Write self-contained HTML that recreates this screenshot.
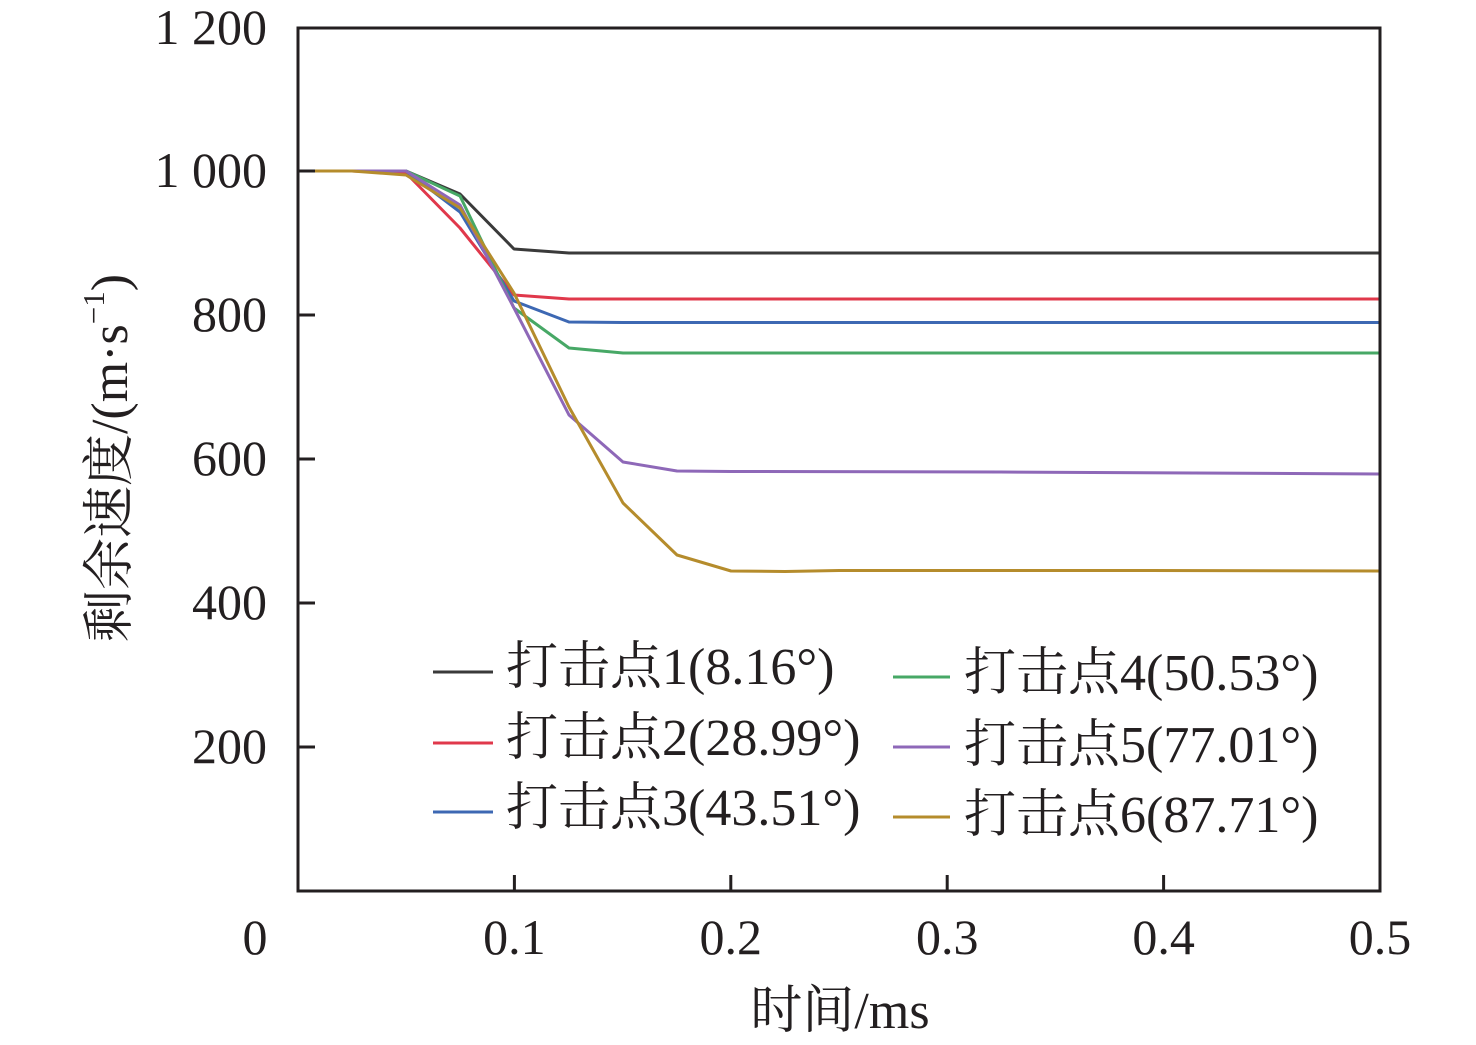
<!DOCTYPE html>
<html>
<head>
<meta charset="utf-8">
<style>
html,body{margin:0;padding:0;background:#fff;}
svg{display:block;}
text{font-family:"Liberation Serif","Noto Serif CJK SC",serif;fill:#231f20;}
</style>
</head>
<body>
<svg width="1476" height="1045" viewBox="0 0 1476 1045" xmlns="http://www.w3.org/2000/svg">
<rect width="1476" height="1045" fill="#fff"/>
<!-- series -->
<g fill="none" stroke-width="3" stroke-linejoin="round">
<polyline stroke="#3a3a3a" points="298,171 352,171 406,171 460,194 514,249 569,253 1380,253"/>
<polyline stroke="#e0384b" points="298,171 352,171 406,173 460,228 514,295 569,299 1380,299"/>
<polyline stroke="#3d68b3" points="298,171 352,171 406,171 460,212 514,301 569,322 623,322.5 1380,322.5"/>
<polyline stroke="#47a866" points="298,171 352,171 406,171 460,196 514,308 569,348 623,353 1380,353"/>
<polyline stroke="#8e68b8" points="298,171 352,171 406,171 460,205 514,308 569,415 623,462 677,471 731,471.5 1000,472 1380,474"/>
<polyline stroke="#b58c2c" points="298,171 352,171 406,175 460,208 514,293 569,407 623,503 677,555 731,571 785,571.5 839,570.5 1150,570.5 1380,571"/>
</g>
<!-- frame -->
<rect x="298" y="28" width="1082" height="863" fill="none" stroke="#231f20" stroke-width="3"/>
<g stroke="#231f20" stroke-width="3">
<line x1="298" y1="171" x2="315" y2="171"/>
<line x1="298" y1="315" x2="315" y2="315"/>
<line x1="298" y1="459" x2="315" y2="459"/>
<line x1="298" y1="603" x2="315" y2="603"/>
<line x1="298" y1="747" x2="315" y2="747"/>
<line x1="514.4" y1="891" x2="514.4" y2="875"/>
<line x1="730.8" y1="891" x2="730.8" y2="875"/>
<line x1="947.2" y1="891" x2="947.2" y2="875"/>
<line x1="1163.6" y1="891" x2="1163.6" y2="875"/>
</g>
<!-- y tick labels -->
<g font-size="50" text-anchor="end">
<text x="267" y="44">1 200</text>
<text x="267" y="187">1 000</text>
<text x="267" y="331">800</text>
<text x="267" y="475">600</text>
<text x="267" y="619">400</text>
<text x="267" y="763">200</text>
</g>
<!-- x tick labels -->
<g font-size="50" text-anchor="middle">
<text x="255" y="954">0</text>
<text x="514.4" y="954">0.1</text>
<text x="730.8" y="954">0.2</text>
<text x="947.2" y="954">0.3</text>
<text x="1163.6" y="954">0.4</text>
<text x="1380" y="954">0.5</text>
</g>
<!-- axis titles -->
<text x="840" y="1028" font-size="52" text-anchor="middle">时间/ms</text>
<text x="127" y="458" font-size="52" text-anchor="middle" transform="rotate(-90 127 458)">剩余速度/(m·s<tspan font-size="31" dy="-23">−1</tspan><tspan dy="23">)</tspan></text>
<!-- legend -->
<g stroke-width="3">
<line x1="433" y1="672" x2="493" y2="672" stroke="#3a3a3a"/>
<line x1="433" y1="743" x2="493" y2="743" stroke="#e0384b"/>
<line x1="433" y1="812" x2="493" y2="812" stroke="#3d68b3"/>
<line x1="893" y1="677" x2="950" y2="677" stroke="#47a866"/>
<line x1="893" y1="747" x2="950" y2="747" stroke="#8e68b8"/>
<line x1="893" y1="817" x2="950" y2="817" stroke="#b58c2c"/>
</g>
<g font-size="52">
<text x="506" y="684">打击点1(8.16°)</text>
<text x="506" y="755">打击点2(28.99°)</text>
<text x="506" y="825">打击点3(43.51°)</text>
<text x="964" y="690">打击点4(50.53°)</text>
<text x="964" y="762">打击点5(77.01°)</text>
<text x="964" y="832">打击点6(87.71°)</text>
</g>
</svg>
</body>
</html>
